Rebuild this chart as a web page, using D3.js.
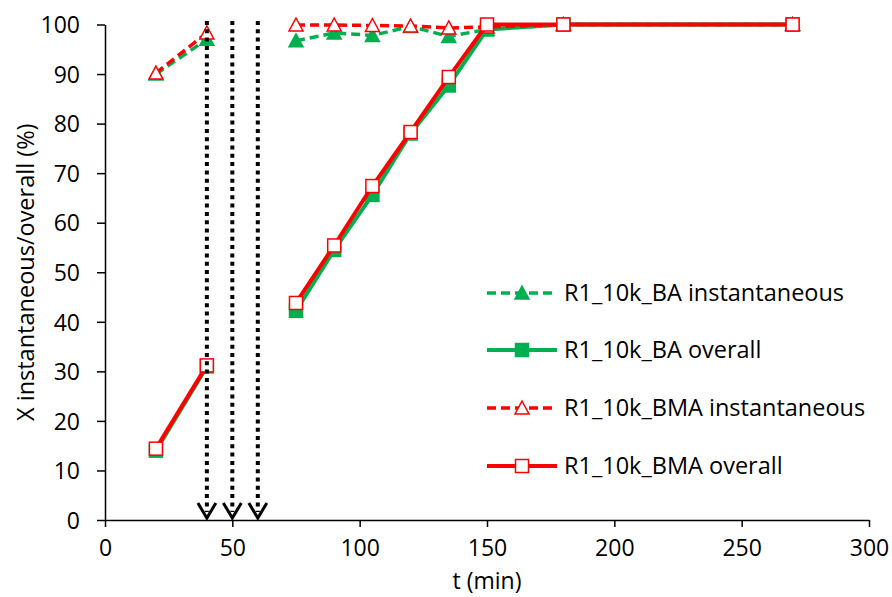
<!DOCTYPE html>
<html>
<head>
<meta charset="utf-8">
<script src="https://cdn.jsdelivr.net/npm/d3@7"></script>
<style>
  html, body { margin: 0; padding: 0; background: #fff; }
  svg { display: block; font-family: "Open Sans", sans-serif; }
</style>
</head>
<body>
<svg id="chart" width="892" height="597"></svg>
<script>
// ---- data ----
const times = [20, 40, 75, 90, 105, 120, 135, 150, 180, 270];
const segmentIds = [0, 0, 1, 1, 1, 1, 1, 1, 1, 1];
const baInstantaneous  = [90, 97, 96.7, 98.3, 97.8, 99.6, 97.6, 99, 100, 100];
const baOverall        = [14, 31, 42.2, 54.5, 65.6, 78, 87.7, 99, 100, 100];
const bmaInstantaneous = [90.2, 98.3, 99.9, 99.9, 99.8, 99.7, 99.3, 99.5, 100, 100];
const bmaOverall       = [14.4, 31.2, 43.8, 55.4, 67.4, 78.3, 89.4, 100, 100, 100];
const arrowTimes = [40, 50, 60];
const xTicks = [0, 50, 100, 150, 200, 250, 300];
const yTicks = [0, 10, 20, 30, 40, 50, 60, 70, 80, 90, 100];
const seriesNames = ["R1_10k_BA instantaneous", "R1_10k_BA overall", "R1_10k_BMA instantaneous", "R1_10k_BMA overall"];

const GREEN = "#00B050", RED = "#FF0000";
const series = [
  { name: seriesNames[0], values: baInstantaneous,  color: GREEN, dash: "9,5", width: 3.5, marker: "triangle", fill: GREEN },
  { name: seriesNames[1], values: baOverall,        color: GREEN, dash: null,  width: 4,   marker: "square",   fill: GREEN },
  { name: seriesNames[2], values: bmaInstantaneous, color: RED,   dash: "9,5", width: 3.5, marker: "triangle", fill: "#fff" },
  { name: seriesNames[3], values: bmaOverall,       color: RED,   dash: null,  width: 4,   marker: "square",   fill: "#fff" }
];

const svg = d3.select("#chart");
const x = d3.scaleLinear().domain([0, 300]).range([105, 869]);
const y = d3.scaleLinear().domain([0, 100]).range([520, 24.5]);

// axes
const xAxis = svg.append("g").attr("transform", `translate(0,${y(0)})`)
  .call(d3.axisBottom(x).tickValues(xTicks).tickSize(7).tickSizeOuter(0).tickPadding(13));
const yAxis = svg.append("g").attr("transform", `translate(${x(0)},0)`)
  .call(d3.axisLeft(y).tickValues(yTicks).tickSize(8).tickSizeOuter(0).tickPadding(17));
[xAxis, yAxis].forEach(g => {
  g.selectAll("path, line").attr("stroke", "#000").attr("stroke-width", 1.5);
  g.selectAll("text").attr("font-size", 23).attr("fill", "#000").attr("font-family", "Open Sans, sans-serif");
});
xAxis.selectAll("text").attr("dy", "0.71em");
yAxis.selectAll("text").attr("dy", "0.36em");

svg.append("text").attr("x", x(150)).attr("y", 589).attr("text-anchor", "middle")
  .attr("font-size", 23).text("t (min)");
svg.append("text").attr("transform", `translate(34,${y(50)}) rotate(-90)`).attr("text-anchor", "middle")
  .attr("font-size", 23.5).text("X instantaneous/overall (%)");

// marker drawing
function drawMarker(g, type, cx, cy, s) {
  if (type === "square") {
    g.append("rect").attr("x", cx - 6.5).attr("y", cy - 6.5).attr("width", 13).attr("height", 13)
      .attr("fill", s.fill).attr("stroke", s.color).attr("stroke-width", 1.5);
  } else {
    const h = 12, w = 14;
    g.append("path").attr("d", `M${cx},${cy - h / 2 - 1}L${cx + w / 2},${cy + h / 2}L${cx - w / 2},${cy + h / 2}Z`)
      .attr("fill", s.fill).attr("stroke", s.color).attr("stroke-width", 1.5);
  }
}

const line = d3.line().x(d => x(d.t)).y(d => y(d.v));
series.forEach(s => {
  const g = svg.append("g");
  const pts = times.map((t, i) => ({ t, v: s.values[i], seg: segmentIds[i] }));
  const segs = d3.groups(pts, d => d.seg).map(d => d[1]);
  segs.forEach(seg => {
    g.append("path").attr("d", line(seg)).attr("fill", "none")
      .attr("stroke", s.color).attr("stroke-width", s.width)
      .attr("stroke-dasharray", s.dash).attr("stroke-linejoin", "round");
  });
  pts.forEach(p => drawMarker(g, s.marker, x(p.t), y(p.v), s));
});

// arrows
arrowTimes.forEach(t => {
  const ax = x(t);
  svg.append("line").attr("x1", ax).attr("x2", ax).attr("y1", 21).attr("y2", 512)
    .attr("stroke", "#000").attr("stroke-width", 4).attr("stroke-dasharray", "4,4.3");
  svg.append("path").attr("d", `M${ax - 9},${503}L${ax},${518}L${ax + 9},${503}`)
    .attr("fill", "none").attr("stroke", "#000").attr("stroke-width", 3).attr("stroke-linejoin", "miter");
});

// legend
const legendY = [293, 350, 408, 466];
series.forEach((s, i) => {
  const g = svg.append("g");
  const ly = legendY[i];
  g.append("line").attr("x1", 487).attr("x2", 557).attr("y1", ly).attr("y2", ly)
    .attr("stroke", s.color).attr("stroke-width", s.width).attr("stroke-dasharray", s.dash);
  drawMarker(g, s.marker, 522, ly, s);
  g.append("text").attr("x", 564).attr("y", ly).attr("dy", "0.36em").attr("font-size", 23.5).text(s.name);
});
</script>
</body>
</html>
